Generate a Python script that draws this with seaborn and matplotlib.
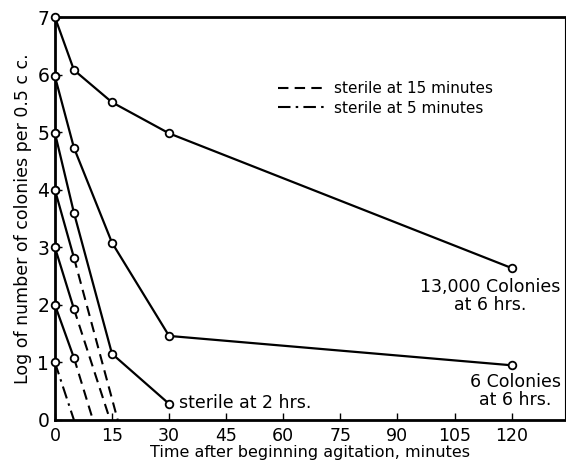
import matplotlib
matplotlib.use("Agg")
import matplotlib.pyplot as plt
from matplotlib.lines import Line2D
import seaborn as sns

# data (time in minutes, log colonies per 0.5 cc)
t_full = [0, 5, 15, 30, 120]
curve_7 = [7.0, 6.08, 5.52, 4.98, 2.64]
curve_6 = [5.97, 4.73, 3.08, 1.46, 0.95]
t_2hr = [0, 5, 15, 30]
curve_5 = [4.99, 3.6, 1.15, 0.28]
t_short = [0, 5]
curve_4 = [4.0, 2.82]
curve_3 = [3.0, 1.93]
curve_2 = [2.0, 1.08]
# dashed extrapolations to sterility (x where the line meets 0)
sterile_x = [16.5, 14.5, 10.0]
# dash-dot line from log 1 at 0 min to sterile at 5 min
dashdot_t = [0, 5]
dashdot_y = [1.0, 0.0]

x_ticks = [0, 15, 30, 45, 60, 75, 90, 105, 120]
y_ticks = [0, 1, 2, 3, 4, 5, 6, 7]

sns.set_style("ticks")
plt.rcParams["font.family"] = ["DejaVu Sans"]
plt.rcParams["text.color"] = "black"
plt.rcParams["axes.labelcolor"] = "black"
plt.rcParams["xtick.color"] = "black"
plt.rcParams["ytick.color"] = "black"
plt.rcParams["axes.edgecolor"] = "black"

fig = plt.figure(figsize=(5.66, 4.62), dpi=100)
ax = fig.add_axes([0.097, 0.091, 0.901, 0.872])

mk = dict(color="black", marker="o", markersize=5.5, markerfacecolor="white",
          markeredgecolor="black", markeredgewidth=1.3, linewidth=1.6)

for tx, ys in [(t_full, curve_7), (t_full, curve_6), (t_2hr, curve_5),
               (t_short, curve_4), (t_short, curve_3), (t_short, curve_2)]:
    sns.lineplot(x=tx, y=ys, ax=ax, zorder=3, **mk)

for ys, sx in zip([curve_4, curve_3, curve_2], sterile_x):
    sns.lineplot(x=[t_short[-1], sx], y=[ys[-1], 0], ax=ax, color="black",
                 linewidth=1.5, linestyle=(0, (5, 3)), zorder=2)

sns.lineplot(x=dashdot_t, y=dashdot_y, ax=ax, color="black", linewidth=1.5,
             linestyle=(0, (6, 2.5, 1.2, 2.5)), zorder=2)

# re-draw the start circles so they sit on top of the axis
mk_only = {k: v for k, v in mk.items() if k != "linewidth"}
for ys in [curve_7, curve_6, curve_5, curve_4, curve_3, curve_2]:
    ax.plot([0], [ys[0]], linestyle="none", zorder=5, clip_on=False, **mk_only)
ax.plot([0], [dashdot_y[0]], linestyle="none", zorder=5, clip_on=False, **mk_only)

ax.set_xlim(0, 134)
ax.set_ylim(0, 7)
ax.set_xticks(x_ticks)
ax.set_yticks(y_ticks)
ax.set_xticklabels([str(v) for v in x_ticks], fontsize=12.5)
ax.set_yticklabels([str(v) for v in y_ticks], fontsize=13.5)
ax.tick_params(axis="x", direction="in", length=5, width=1, pad=5)
ax.tick_params(axis="y", direction="in", length=5, width=1, pad=4)

for s in ["left", "bottom", "top"]:
    ax.spines[s].set_linewidth(2.0)
ax.spines["right"].set_linewidth(0.8)

ax.set_xlabel("Time after beginning agitation, minutes", fontsize=11.5, labelpad=0)
ax.set_ylabel("Log of number of colonies per 0.5 c c.", fontsize=12.5, labelpad=4)

ax.text(114.5, 2.47, "13,000 Colonies\nat 6 hrs.", ha="center", va="top",
        fontsize=12.5, linespacing=1.0, multialignment="center")
ax.text(121, 0.81, "6 Colonies\nat 6 hrs.", ha="center", va="top",
        fontsize=12.5, linespacing=1.0, multialignment="center")
ax.text(32.5, 0.3, "sterile at 2 hrs.", ha="left", va="center", fontsize=12.5)

handles = [Line2D([], [], color="black", linewidth=1.5, linestyle=(0, (5, 3))),
           Line2D([], [], color="black", linewidth=1.5,
                  linestyle=(0, (6, 2.5, 1.2, 2.5)))]
ax.legend(handles, ["sterile at 15 minutes", "sterile at 5 minutes"],
          loc="upper left", bbox_to_anchor=(0.41, 0.875), frameon=False,
          fontsize=11, handlelength=3.3, handletextpad=0.4, labelspacing=0.3)

fig.savefig("out.png", dpi=100)
